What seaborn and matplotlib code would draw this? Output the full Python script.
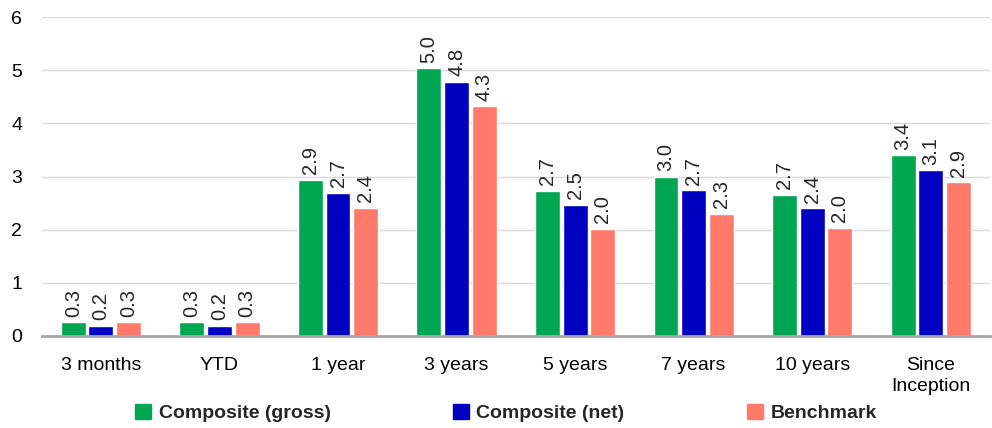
#! /usr/bin/env python3

# libraries
import matplotlib.pyplot as plt
import matplotlib.patches as mpatches
import pandas as pd
import seaborn as sns

sns.set_style("white")
plt.rcParams["font.family"] = ["Liberation Sans", "DejaVu Sans"]

# data
periods = ["3 months", "YTD", "1 year", "3 years", "5 years", "7 years",
           "10 years", "Since\nInception"]
series = ["Composite (gross)", "Composite (net)", "Benchmark"]
gross = [0.26, 0.26, 2.94, 5.04, 2.73, 3.00, 2.66, 3.40]
net = [0.19, 0.19, 2.69, 4.78, 2.47, 2.74, 2.40, 3.12]
bench = [0.26, 0.26, 2.41, 4.32, 2.02, 2.30, 2.04, 2.89]
colors = ["#00A651", "#0000C0", "#FF7A6A"]

df = pd.DataFrame({
    "period": periods * 3,
    "value": gross + net + bench,
    "series": [s for s in series for _ in periods],
})

fig = plt.figure(figsize=(9.92, 4.28), dpi=100)
ax = fig.add_axes([0.042, 0.215, 0.956, 0.745])
sns.barplot(
    data=df,
    x="period",
    y="value",
    hue="series",
    palette=colors,
    saturation=1,
    width=0.7,
    gap=0.1,
    ax=ax,
    legend=False,
)

# value labels above bars, rotated
for cont in ax.containers:
    ax.bar_label(cont, fmt="%.1f", rotation=90, padding=4, fontsize=14.5)

ax.set_ylim(0, 6)
ax.set_xlim(-0.5, 7.5)
ax.set_yticks(range(0, 7))
ax.yaxis.grid(True, color="#D9D9D9", linewidth=1)
ax.set_axisbelow(True)
ax.set_xlabel("")
ax.set_ylabel("")
for s in ["top", "right", "left"]:
    ax.spines[s].set_visible(False)
ax.spines["bottom"].set_color("#A6A6A6")
ax.spines["bottom"].set_linewidth(2)
ax.tick_params(axis="both", length=0, labelsize=14, colors="black")
ax.tick_params(axis="x", pad=15)
ax.tick_params(axis="y", pad=14)
for lbl in ax.get_xticklabels():
    lbl.set_linespacing(1.35)

handles = [mpatches.Patch(color=c, label=s) for c, s in zip(colors, series)]
fig.legend(
    handles=handles,
    loc="center",
    bbox_to_anchor=(0.51, 0.035),
    ncol=3,
    frameon=False,
    prop={"weight": "bold", "size": 14},
    handlelength=0.8,
    handleheight=0.8,
    handletextpad=0.4,
    columnspacing=6.3,
)

plt.savefig("out.png", dpi=100)
